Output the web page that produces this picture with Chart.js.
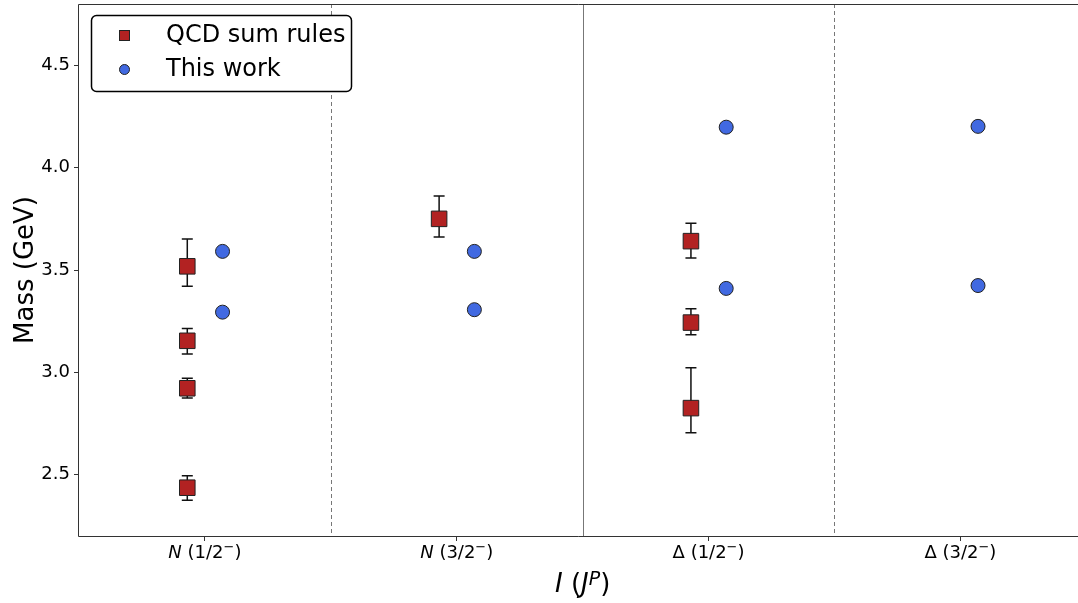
<!DOCTYPE html>
<html>
<head>
<meta charset="utf-8">
<script src="https://cdn.jsdelivr.net/npm/chart.js@4/dist/chart.umd.min.js"></script>
<style>
  html, body { margin: 0; padding: 0; background: #fff; }
  #wrap { width: 1078px; height: 603px; position: relative; }
</style>
</head>
<body>
<div id="wrap"><canvas id="massChart"></canvas></div>
<script>
(function () {
    'use strict';

    // category labels: [italic part, upright part]
    const categories = [['N', ' (1/2'], ['N', ' (3/2'], ['', 'Δ (1/2'], ['', 'Δ (3/2']];
    const yTicks = [2.5, 3.0, 3.5, 4.0, 4.5];

    // QCD sum rules, with error bars
    const qcdCat = [0, 0, 0, 0, 1, 2, 2, 2];
    const qcdMass = [3.518, 3.154, 2.922, 2.436, 3.750, 3.641, 3.243, 2.825];
    const qcdLow = [3.421, 3.090, 2.874, 2.375, 3.661, 3.559, 3.183, 2.705];
    const qcdHigh = [3.651, 3.214, 2.971, 2.495, 3.862, 3.729, 3.311, 3.022];

    // This work
    const workCat = [0, 0, 1, 1, 2, 2, 3, 3];
    const workMass = [3.591, 3.294, 3.591, 3.306, 4.198, 3.410, 4.202, 3.424];

    const FONT = "'DejaVu Sans', sans-serif";
    const RED = '#b22222';
    const BLUE = '#4169e1';
    const EDGE = '#222222';
    const SHIFT = 0.07;

    const qcdPoints = qcdMass.map((m, i) => ({ x: qcdCat[i] - SHIFT, y: m }));
    const workPoints = workMass.map((m, i) => ({ x: workCat[i] + SHIFT, y: m }));

    const decorPlugin = {
        id: 'decor',
        beforeDatasetsDraw(chart) {
            const ctx = chart.ctx;
            const xs = chart.scales.x;
            const ys = chart.scales.y;
            const area = chart.chartArea;
            ctx.save();
            // separators between categories
            [0.5, 1.5, 2.5].forEach(v => {
                const px = Math.round(xs.getPixelForValue(v)) + 0.5;
                ctx.beginPath();
                ctx.strokeStyle = '#777';
                ctx.lineWidth = 1;
                ctx.setLineDash(v === 1.5 ? [] : [4, 3]);
                ctx.moveTo(px, area.top);
                ctx.lineTo(px, area.bottom);
                ctx.stroke();
            });
            ctx.setLineDash([]);
            // error bars
            ctx.strokeStyle = '#111';
            ctx.lineWidth = 1.5;
            qcdMass.forEach((m, i) => {
                const px = xs.getPixelForValue(qcdCat[i] - SHIFT);
                const top = ys.getPixelForValue(qcdHigh[i]);
                const bot = ys.getPixelForValue(qcdLow[i]);
                ctx.beginPath();
                ctx.moveTo(px, top);
                ctx.lineTo(px, bot);
                ctx.moveTo(px - 5.5, top);
                ctx.lineTo(px + 5.5, top);
                ctx.moveTo(px - 5.5, bot);
                ctx.lineTo(px + 5.5, bot);
                ctx.stroke();
            });
            ctx.restore();
        },
        afterDraw(chart) {
            const ctx = chart.ctx;
            const xs = chart.scales.x;
            const area = chart.chartArea;
            ctx.save();
            // frame: left, top, bottom (right side is cut off by the picture edge)
            const l = Math.round(area.left) - 0.5;
            const t = Math.round(area.top) + 0.5;
            const b = Math.round(area.bottom) + 0.5;
            ctx.strokeStyle = '#333';
            ctx.lineWidth = 1;
            ctx.beginPath();
            ctx.moveTo(area.right, t);
            ctx.lineTo(l, t);
            ctx.lineTo(l, b);
            ctx.lineTo(area.right, b);
            ctx.stroke();

            // x tick labels
            ctx.fillStyle = '#000';
            ctx.textBaseline = 'alphabetic';
            categories.forEach((c, i) => {
                const parts = [
                    { t: c[0], f: 'italic 18px ' + FONT, dy: 0 },
                    { t: c[1], f: '18px ' + FONT, dy: 0 },
                    { t: '−', f: '13px ' + FONT, dy: -7 },
                    { t: ')', f: '18px ' + FONT, dy: 0 }
                ];
                drawParts(ctx, parts, xs.getPixelForValue(i), 558);
            });

            // x title, centred on the full axis
            drawParts(ctx, [
                { t: 'I', f: 'italic 26px ' + FONT, dy: 0 },
                { t: ' (', f: '26px ' + FONT, dy: 0 },
                { t: 'J', f: 'italic 26px ' + FONT, dy: 0 },
                { t: 'P', f: 'italic 19px ' + FONT, dy: -7 },
                { t: ')', f: '26px ' + FONT, dy: 0 }
            ], xs.getPixelForValue(1.5), 592);

            // y title
            ctx.save();
            ctx.translate(33, (area.top + area.bottom) / 2);
            ctx.rotate(-Math.PI / 2);
            ctx.font = '26px ' + FONT;
            ctx.textAlign = 'center';
            ctx.fillText('Mass (GeV)', 0, 0);
            ctx.restore();

            // legend
            const lx = 91.5, ly = 15.5, lw = 260, lh = 76;
            ctx.beginPath();
            ctx.roundRect(lx, ly, lw, lh, 5);
            ctx.fillStyle = '#ffffff';
            ctx.fill();
            ctx.strokeStyle = '#000';
            ctx.lineWidth = 1.5;
            ctx.stroke();

            ctx.lineWidth = 1;
            ctx.strokeStyle = EDGE;
            ctx.fillStyle = RED;
            ctx.fillRect(119, 30, 11, 11);
            ctx.strokeRect(119.5, 30.5, 10, 10);
            ctx.beginPath();
            ctx.arc(124.5, 69.5, 5, 0, Math.PI * 2);
            ctx.fillStyle = BLUE;
            ctx.fill();
            ctx.stroke();

            ctx.fillStyle = '#000';
            ctx.font = '24px ' + FONT;
            ctx.textAlign = 'left';
            ctx.textBaseline = 'middle';
            ctx.fillText(chart.data.datasets[0].label, 166, 36);
            ctx.fillText(chart.data.datasets[1].label, 166, 70);
            ctx.restore();
        }
    };

    function drawParts(ctx, parts, cx, baseline) {
        ctx.textAlign = 'left';
        let total = 0;
        parts.forEach(p => { ctx.font = p.f; p.w = ctx.measureText(p.t).width; total += p.w; });
        let x = cx - total / 2;
        parts.forEach(p => {
            ctx.font = p.f;
            ctx.fillText(p.t, x, baseline + p.dy);
            x += p.w;
        });
    }

    new Chart(document.getElementById('massChart'), {
        type: 'scatter',
        data: {
            datasets: [{
                label: 'QCD sum rules',
                data: qcdPoints,
                pointStyle: 'rect',
                pointRadius: 11,
                pointHoverRadius: 11,
                backgroundColor: RED,
                borderColor: EDGE,
                borderWidth: 1
            }, {
                label: 'This work',
                data: workPoints,
                pointStyle: 'circle',
                pointRadius: 7,
                pointHoverRadius: 7,
                backgroundColor: BLUE,
                borderColor: EDGE,
                borderWidth: 1
            }]
        },
        options: {
            responsive: true,
            maintainAspectRatio: false,
            animation: false,
            events: [],
            layout: { autoPadding: false, padding: { top: 4, right: 0, left: 0, bottom: 0 } },
            plugins: { legend: { display: false }, tooltip: { enabled: false } },
            scales: {
                x: {
                    type: 'linear',
                    min: -0.5,
                    max: 3.467,
                    afterBuildTicks: s => { s.ticks = [0, 1, 2, 3].map(v => ({ value: v })); },
                    afterFit: s => { s.height = 67; s.paddingLeft = 0; s.paddingRight = 0; },
                    grid: { drawOnChartArea: false, drawTicks: true, tickLength: 5, color: '#333' },
                    border: { display: false },
                    ticks: { color: 'rgba(0,0,0,0)', font: { size: 18, family: FONT }, callback: v => '' }
                },
                y: {
                    min: 2.2,
                    max: 4.8,
                    afterBuildTicks: s => { s.ticks = yTicks.map(v => ({ value: v })); },
                    afterFit: s => { s.width = 79; s.paddingTop = 0; s.paddingBottom = 0; },
                    grid: { drawOnChartArea: false, drawTicks: true, tickLength: 5, color: '#333' },
                    border: { display: false },
                    ticks: {
                        color: '#000',
                        padding: 4,
                        font: { size: 18, family: FONT },
                        callback: v => v.toFixed(1)
                    }
                }
            }
        },
        plugins: [decorPlugin]
    });
})();
</script>
</body>
</html>
